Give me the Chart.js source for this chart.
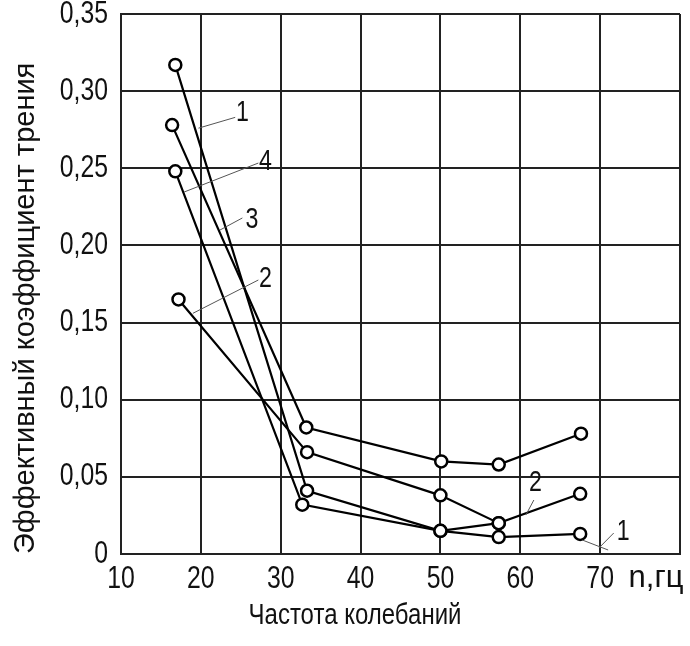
<!DOCTYPE html>
<html>
<head>
<meta charset="utf-8">
<script src="https://cdn.jsdelivr.net/npm/chart.js@4/dist/chart.umd.min.js"></script>
<style>
  body { margin: 0; background: #fff; }
  #wrap { width: 690px; height: 646px; }
</style>
</head>
<body>
<div id="wrap"><canvas id="chart" width="690" height="646"></canvas></div>
<script>
// Эффективный коэффициент трения vs частота колебаний, кривые 1–4
const NARROW = "'Liberation Sans Narrow', 'Liberation Sans', Arial, sans-serif";
const FONT = "'Liberation Sans', Arial, sans-serif";

// узкого шрифта в системе нет — сжимаем такой текст по ширине
const SQUEEZE = 0.8;
const fillText0 = CanvasRenderingContext2D.prototype.fillText;
CanvasRenderingContext2D.prototype.fillText = function (text, x, y, maxWidth) {
  if (this.font.includes('Narrow')) {
    const w = this.measureText(text).width * SQUEEZE;
    maxWidth = maxWidth === undefined ? w : Math.min(w, maxWidth);
  }
  return maxWidth === undefined
    ? fillText0.call(this, text, x, y)
    : fillText0.call(this, text, x, y, maxWidth);
};

const xTickLabels = ['10', '20', '30', '40', '50', '60', '70', ''];
const yTickLabels = ['0', '0,05', '0,10', '0,15', '0,20', '0,25', '0,30', '0,35'];
const xUnit = 'n,гц';

const curve1X = [16.8, 33.3, 50.0, 57.3, 67.5];
const curve1Y = [0.317, 0.041, 0.015, 0.011, 0.013];
const curve2X = [17.2, 33.3, 50.0, 57.3, 67.5];
const curve2Y = [0.165, 0.066, 0.038, 0.020, 0.039];
const curve3X = [16.4, 33.2, 50.1, 57.3, 67.6];
const curve3Y = [0.278, 0.082, 0.060, 0.058, 0.078];
const curve4X = [16.8, 32.7, 50.0, 57.3];
const curve4Y = [0.248, 0.032, 0.015, 0.020];

// номера кривых и выноски (в единицах осей)
const noteText = ['1', '4', '3', '2', '2', '1'];
const noteX    = [25.2, 28.1, 26.4, 28.1, 61.9, 72.9];
const noteY    = [0.286, 0.254, 0.2165, 0.178, 0.046, 0.0143];
const leadX1 = [19.7, 17.9, 22.4, 19.0, 60.7, 67.8, 69.85];
const leadY1 = [0.276, 0.2346, 0.210, 0.156, 0.0253, 0.009, 0.0039];
const leadX2 = [24.3, 27.2, 25.2, 27.2, 61.7, 71.0, 71.7];
const leadY2 = [0.283, 0.2534, 0.2178, 0.1776, 0.035, 0.0026, 0.0136];

const toPts = (xs, ys) => xs.map((x, i) => ({ x, y: ys[i] }));

const curve = (label, xs, ys) => ({
  label,
  data: toPts(xs, ys),
  showLine: true,
  borderColor: '#000',
  borderWidth: 2.2,
  pointRadius: 6,
  pointBorderWidth: 2.5,
  pointBackgroundColor: '#fff',
  pointBorderColor: '#000',
});

const notes = {
  id: 'notes',
  afterDatasetsDraw(chart) {
    const { ctx, scales: { x, y } } = chart;
    ctx.save();
    ctx.strokeStyle = '#555';
    ctx.lineWidth = 1;
    leadX1.forEach((_, i) => {
      ctx.beginPath();
      ctx.moveTo(x.getPixelForValue(leadX1[i]), y.getPixelForValue(leadY1[i]));
      ctx.lineTo(x.getPixelForValue(leadX2[i]), y.getPixelForValue(leadY2[i]));
      ctx.stroke();
    });
    ctx.fillStyle = '#111';
    ctx.font = `29px ${NARROW}`;
    ctx.textAlign = 'center';
    ctx.textBaseline = 'middle';
    noteText.forEach((t, i) => {
      ctx.fillText(t, x.getPixelForValue(noteX[i]), y.getPixelForValue(noteY[i]));
    });
    // единица по оси x на месте последней метки
    ctx.font = `31px ${FONT}`;
    ctx.fillText(xUnit, x.getPixelForValue(80) - 24, y.bottom + 24);
    ctx.restore();
  },
};

new Chart(document.getElementById('chart'), {
  type: 'scatter',
  data: {
    datasets: [
      curve('1', curve1X, curve1Y),
      curve('2', curve2X, curve2Y),
      curve('3', curve3X, curve3Y),
      curve('4', curve4X, curve4Y),
    ],
  },
  options: {
    responsive: false,
    animation: false,
    layout: { padding: { top: 14, right: 10, left: 30, bottom: 0 } },
    plugins: {
      legend: { display: false },
      tooltip: { enabled: false },
      title: {
        display: true, position: 'bottom', text: 'Частота колебаний', color: '#111',
        font: { family: NARROW, size: 30, weight: 'normal' },
        padding: { top: 0, bottom: 12 },
      },
    },
    scales: {
      x: {
        min: 10, max: 80,
        afterFit: s => { s.height = 44; s.paddingLeft = 0; s.paddingRight = 0; },
        ticks: {
          stepSize: 10, color: '#111', padding: 7,
          font: { family: NARROW, size: 31 },
          callback: (v, i) => xTickLabels[i],
          maxRotation: 0, autoSkip: false,
        },
        grid: { color: '#222', lineWidth: 2, drawTicks: false },
        border: { color: '#222', width: 2 },
      },
      y: {
        min: 0, max: 0.35,
        afterFit: s => { s.width = 91; s.paddingTop = 0; s.paddingBottom = 0; },
        ticks: {
          stepSize: 0.05, color: '#111', padding: 13,
          font: { family: NARROW, size: 31 },
          callback: (v, i) => yTickLabels[i],
        },
        grid: { color: '#222', lineWidth: 2, drawTicks: false },
        border: { color: '#222', width: 2 },
        title: {
          display: true, align: 'start', text: 'Эффективный коэффициент трения', color: '#111',
          font: { family: FONT, size: 29 }, padding: { top: -21 },
        },
      },
    },
  },
  plugins: [notes],
});
</script>
</body>
</html>
